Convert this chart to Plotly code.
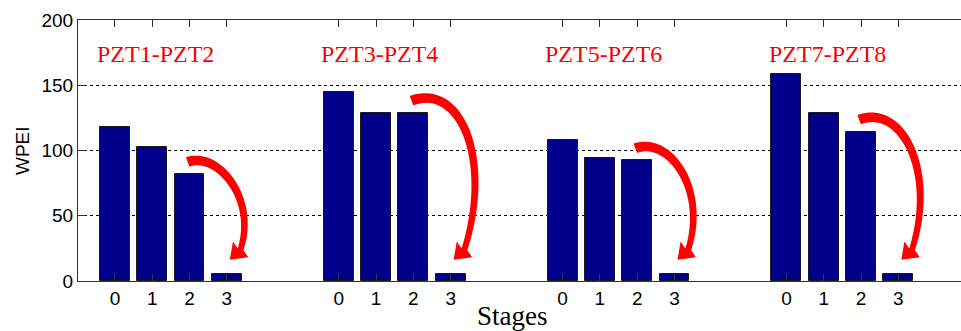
import numpy as np
import plotly.graph_objects as go

# ---- data ----
groups = ["PZT1-PZT2", "PZT3-PZT4", "PZT5-PZT6", "PZT7-PZT8"]
stages = ["0", "1", "2", "3"]
wpei_g1 = [118, 103, 82, 5.5]
wpei_g2 = [145, 129, 129, 5.5]
wpei_g3 = [108, 94, 92.5, 5.5]
wpei_g4 = [158.5, 128.5, 114.5, 5.5]
values = [wpei_g1, wpei_g2, wpei_g3, wpei_g4]
y_ticks = [0, 50, 100, 150, 200]

# ---- layout constants ----
W, H = 961, 331
ML, MR, MT, MB = 78, 0, 20, 50
GAP = 6  # slots per group (4 bars + 2 empty)
XR = [-0.99, 22.68]
YR = [0, 200]
PW, PH = W - ML - MR, H - MT - MB
SX = PW / (XR[1] - XR[0])
SY = PH / (YR[1] - YR[0])

def to_px(x, y):
    return ML + (x - XR[0]) * SX, MT + (YR[1] - y) * SY

def to_data(px, py):
    return XR[0] + (px - ML) / SX, YR[1] - (py - MT) / SY

xs, ys, tvals, ttext = [], [], [], []
for gi, vals in enumerate(values):
    for si, v in enumerate(vals):
        xs.append(gi * GAP + si)
        ys.append(v)
        tvals.append(gi * GAP + si)
        ttext.append(stages[si])

fig = go.Figure()
fig.add_trace(go.Bar(
    x=xs, y=ys, width=0.8,
    marker=dict(color="#00008B", line=dict(color="#1a1a1a", width=1)),
    showlegend=False, hoverinfo="x+y",
))

# ---- curved red arrows (from bar 2 top to bar 3 top) ----
def bez(P, t):
    t = t[:, None]
    return ((1 - t) ** 3) * P[0] + 3 * ((1 - t) ** 2) * t * P[1] + 3 * (1 - t) * t ** 2 * P[2] + t ** 3 * P[3]

def bez_d(P, t):
    t = t[:, None]
    return 3 * ((1 - t) ** 2) * (P[1] - P[0]) + 6 * (1 - t) * t * (P[2] - P[1]) + 3 * t ** 2 * (P[3] - P[2])

def unit(v):
    v = np.array(v, dtype=float)
    return v / np.linalg.norm(v)

shapes = []
for gi, vals in enumerate(values):
    x2, x3 = gi * GAP + 2, gi * GAP + 3
    sx, sy = to_px(x2 - 0.05, vals[2])
    S = np.array([sx, sy - 12])
    tx, ty = to_px(x3, vals[3])
    T = np.array([tx + 3, ty - 14])
    hd = unit([-0.72, 0.7])    # arrow-head direction
    ad = unit([-0.3, 0.95])    # body approach direction
    d0 = unit([0.94, -0.34])   # tail departure direction
    HL, HW = 15, 11
    E = T - HL * hd
    D = E[1] - S[1]
    c1, c2 = 0.36 * D, 0.62 * D
    P = [S, S + c1 * d0, E - c2 * ad, E]
    t = np.linspace(0, 1, 48)
    B = bez(P, t)
    Dv = bez_d(P, t)
    Dv = Dv / np.linalg.norm(Dv, axis=1)[:, None]
    N = np.stack([-Dv[:, 1], Dv[:, 0]], axis=1)
    w = (10 * (1 - t) + 6 * t)[:, None] / 2
    left = B + N * w
    right = B - N * w
    nh = np.array([-hd[1], hd[0]])
    pts = list(left) + [E + nh * HW, T, E - nh * HW] + list(right[::-1])
    path = ""
    for i, (px, py) in enumerate(pts):
        dx, dy = to_data(px, py)
        path += ("M" if i == 0 else "L") + f"{dx:.4f},{dy:.4f} "
    path += "Z"
    shapes.append(dict(type="path", path=path, xref="x", yref="y",
                       fillcolor="#FF0000", line=dict(width=0), layer="above"))

annotations = []
for gi, g in enumerate(groups):
    annotations.append(dict(
        x=gi * GAP + 1.1, y=174, xref="x", yref="y", text=g, showarrow=False,
        font=dict(family="Liberation Serif", size=24, color="#FF0000"),
        xanchor="center", yanchor="middle"))

annotations.append(dict(
    x=(512 - ML) / PW, y=(MT + PH - 316) / PH,
    xref="paper", yref="paper", text="Stages", showarrow=False,
    font=dict(family="Liberation Serif", size=27, color="#000000"),
    xanchor="center", yanchor="middle"))
annotations.append(dict(
    x=(22.5 - ML) / PW, y=0.5, xref="paper", yref="paper", text="WPEI",
    showarrow=False, textangle=-90,
    font=dict(family="Liberation Sans", size=19, color="#000000"),
    xanchor="center", yanchor="middle"))

fig.update_layout(
    width=W, height=H,
    margin=dict(l=ML, r=MR, t=MT, b=MB, pad=0),
    plot_bgcolor="white", paper_bgcolor="white",
    bargap=0, shapes=shapes, annotations=annotations,
    font=dict(family="Liberation Sans", size=19, color="#000000"),
    xaxis=dict(range=XR, tickmode="array", tickvals=tvals, ticktext=ttext,
               showgrid=False, zeroline=False, showline=True, linecolor="#333333",
               linewidth=1, mirror="ticks", ticks="inside", ticklen=7,
               tickcolor="#333333", tickfont=dict(size=19)),
    yaxis=dict(range=YR, tickmode="array", tickvals=y_ticks,
               showgrid=True, gridcolor="#000000", gridwidth=1, griddash="3px,3px",
               zeroline=False, showline=True, linecolor="#333333", linewidth=1,
               ticks="inside", ticklen=7, tickcolor="#333333",
               tickfont=dict(size=19)),
)

fig.write_html("out.html")
